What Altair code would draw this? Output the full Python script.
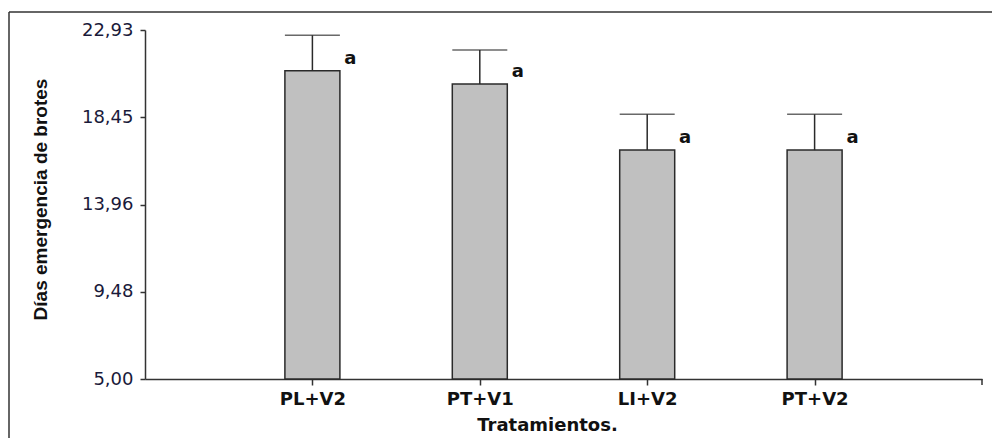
import altair as alt
import pandas as pd

# Data
categories = ["PL+V2", "PT+V1", "LI+V2", "PT+V2"]
means = [20.84, 20.16, 16.76, 16.76]
errors = [1.82, 1.74, 1.84, 1.84]
letters = ["a", "a", "a", "a"]
y_ticks = [5.00, 9.48, 13.96, 18.45, 22.93]

df = pd.DataFrame({
    "trat": categories,
    "mean": means,
    "upper": [m + e for m, e in zip(means, errors)],
    "letra": letters,
})

W, H = 837, 349
PL, PT = 145, 30

xenc = alt.X(
    "trat:N",
    sort=categories,
    scale=alt.Scale(type="point", padding=1),
    axis=alt.Axis(
        title="Tratamientos.",
        labelAngle=0,
        labelFont="DejaVu Sans",
        labelFontSize=18,
        labelFontWeight="bold",
        labelColor="#111111",
        labelPadding=5,
        tickSize=6,
        tickColor="#333333",
        tickWidth=1.5,
        domainColor="#333333",
        domainWidth=1.5,
        titleFont="DejaVu Sans",
        titleFontSize=18,
        titleFontWeight="bold",
        titleColor="#111111",
        titleX=402,
        titleY=51,
        titleBaseline="alphabetic",
        grid=False,
    ),
)

yscale = alt.Scale(domain=[5, 22.93], nice=False, zero=False)

base = alt.Chart(df)

bars = base.mark_bar(
    size=55, color="#c0c0c0", stroke="#2a2a2a", strokeWidth=1.5
).encode(
    x=xenc,
    y=alt.Y(
        "mean:Q",
        scale=yscale,
        axis=alt.Axis(
            title="Días emergencia de brotes",
            values=y_ticks,
            labelExpr="replace(format(datum.value, '.2f'), '.', ',')",
            labelFont="DejaVu Sans",
            labelFontSize=18,
            labelColor="#1a1a3a",
            labelPadding=7,
            tickSize=5,
            tickColor="#333333",
            tickWidth=1.5,
            domainColor="#333333",
            domainWidth=1.5,
            titleFont="Liberation Sans",
            titleFontSize=19,
            titleFontWeight="bold",
            titleColor="#111111",
            titleX=-105,
            titleY=169,
            titleBaseline="middle",
            titleAlign="center",
            grid=False,
        ),
    ),
    y2=alt.datum(5),
)

rules = base.mark_rule(color="#2a2a2a", strokeWidth=1.5).encode(
    x=alt.X("trat:N", sort=categories),
    y=alt.Y("mean:Q", scale=yscale),
    y2="upper:Q",
)

caps = base.mark_tick(color="#2a2a2a", thickness=1.5, size=55, orient="horizontal").encode(
    x=alt.X("trat:N", sort=categories),
    y=alt.Y("upper:Q", scale=yscale),
)

labels = base.mark_text(
    dx=38, dy=-12, font="DejaVu Sans", fontSize=18, fontWeight="bold", color="#111111"
).encode(
    x=alt.X("trat:N", sort=categories),
    y=alt.Y("mean:Q", scale=yscale),
    text="letra:N",
)

# decorative outer frame (left and top edges) and the x-axis end tick
frame_left = alt.Chart(pd.DataFrame({"k": [0]})).mark_rule(color="#333333", strokeWidth=1.5).encode(
    x=alt.value(9 - PL), y=alt.value(12 - PT), y2=alt.value(438 - PT + 5)
)
frame_top = alt.Chart(pd.DataFrame({"k": [0]})).mark_rule(color="#333333", strokeWidth=1.5).encode(
    x=alt.value(9 - PL), x2=alt.value(992 - PL + 5), y=alt.value(12 - PT)
)
end_tick = alt.Chart(pd.DataFrame({"k": [0]})).mark_rule(color="#333333", strokeWidth=1.5).encode(
    x=alt.value(W), y=alt.value(H), y2=alt.value(H + 6)
)

chart = alt.layer(bars, rules, caps, labels, frame_left, frame_top, end_tick).properties(
    width=W,
    height=H,
    padding={"left": PL, "top": PT, "right": 992 - PL - W, "bottom": 438 - PT - H},
    autosize=alt.AutoSizeParams(type="none"),
    background="white",
).configure_view(stroke=None)

chart.save("out.html", embed_options={"renderer": "svg", "actions": False})
